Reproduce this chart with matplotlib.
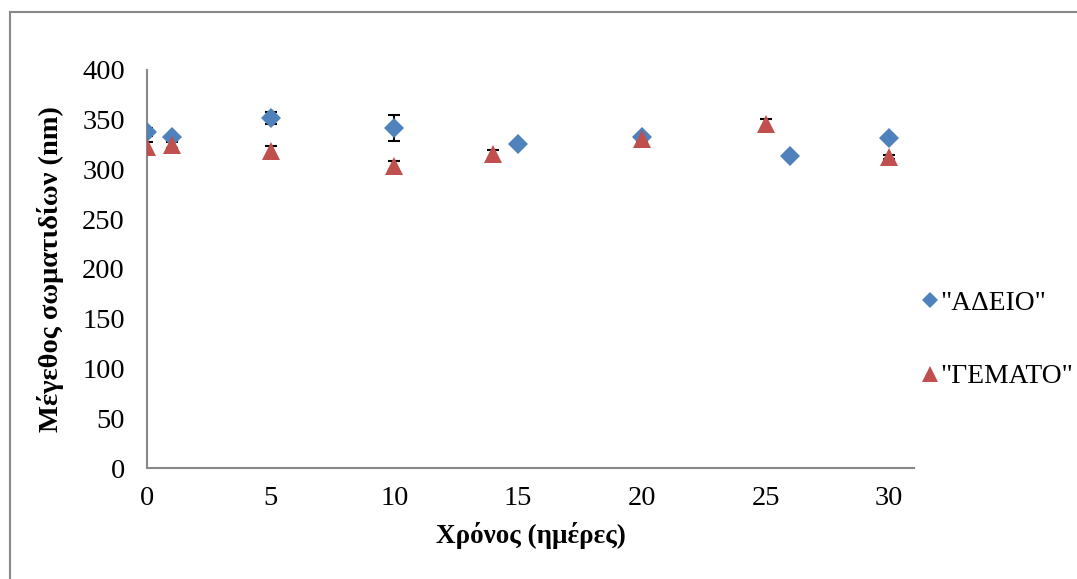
import matplotlib
matplotlib.use("Agg")
import matplotlib.pyplot as plt
from matplotlib.lines import Line2D

plt.rcParams['font.family'] = ['Liberation Serif', 'DejaVu Serif']

# Data
adeio_x = [0, 1, 5, 10, 15, 20, 26, 30]
adeio_y = [338, 333, 352, 342, 326, 333, 314, 332]
adeio_err = [4, 3, 6, 13, 3, 3, 3, 3]

gemato_x = [0, 1, 5, 10, 14, 20, 25, 30]
gemato_y = [323, 325, 319, 304, 316, 331, 346, 313]
gemato_err = [5, 3, 5, 5, 4, 3, 5, 2]

x_ticks = [0, 5, 10, 15, 20, 25, 30]
y_ticks = [0, 50, 100, 150, 200, 250, 300, 350, 400]

label_adeio = '"ΑΔΕΙΟ"'
label_gemato = '"ΓΕΜΑΤΟ"'
xlabel = 'Χρόνος (ημέρες)'
ylabel = 'Μέγεθος σωματιδίων (nm)'

blue = '#4F81BD'
red = '#C0504D'
grey = '#898989'

fig = plt.figure(figsize=(10.77, 5.79), dpi=100)
ax = fig.add_axes([147/1077, 1-468/579, (914-147)/1077, (468-70)/579])

ax.errorbar(adeio_x, adeio_y, yerr=adeio_err, fmt='none', ecolor='black',
            elinewidth=1.5, capsize=4, capthick=1.5, zorder=2)
ax.errorbar(gemato_x, gemato_y, yerr=gemato_err, fmt='none', ecolor='black',
            elinewidth=1.5, capsize=4, capthick=1.5, zorder=2)
ax.plot(adeio_x, adeio_y, linestyle='none', marker='D', markersize=10.2,
        color=blue, markeredgecolor=blue, markeredgewidth=0, label=label_adeio, zorder=3)
ax.plot(gemato_x, gemato_y, linestyle='none', marker='^', markersize=12.8,
        color=red, markeredgecolor=red, markeredgewidth=0, label=label_gemato, zorder=4)

ax.set_xlim(0, 31)
ax.set_ylim(0, 400)
ax.set_xticks(x_ticks)
ax.set_yticks(y_ticks)
ax.tick_params(axis='both', length=0, labelsize=20.5)
ax.tick_params(axis='y', pad=16)
ax.tick_params(axis='x', pad=13)

for s in ['top', 'right']:
    ax.spines[s].set_visible(False)
for s in ['left', 'bottom']:
    ax.spines[s].set_color(grey)
    ax.spines[s].set_linewidth(1.5)

ax.set_xlabel(xlabel, fontsize=19.5, fontweight='bold', labelpad=8)
ax.set_ylabel(ylabel, fontsize=20.5, fontweight='bold', labelpad=13)

handles = [Line2D([], [], linestyle='none', marker='D', markersize=8, color=blue,
                  markeredgewidth=0),
           Line2D([], [], linestyle='none', marker='^', markersize=11, color=red,
                  markeredgewidth=0)]
fig.legend(handles, [label_adeio, label_gemato], loc='center left',
           bbox_to_anchor=(922/1077, 1-340/579),
           frameon=False, fontsize=19.8, handlelength=0.6, handletextpad=0.05,
           labelspacing=1.75, borderaxespad=0, borderpad=0)

# chart-area border (left and top edges visible)
fig.add_artist(Line2D([9.5/1077, 9.5/1077], [0, 1-12/579], transform=fig.transFigure,
                      color=grey, linewidth=1.5))
fig.add_artist(Line2D([9.5/1077, 1], [1-12/579, 1-12/579], transform=fig.transFigure,
                      color=grey, linewidth=1.5))

fig.savefig('out.png', dpi=100)
